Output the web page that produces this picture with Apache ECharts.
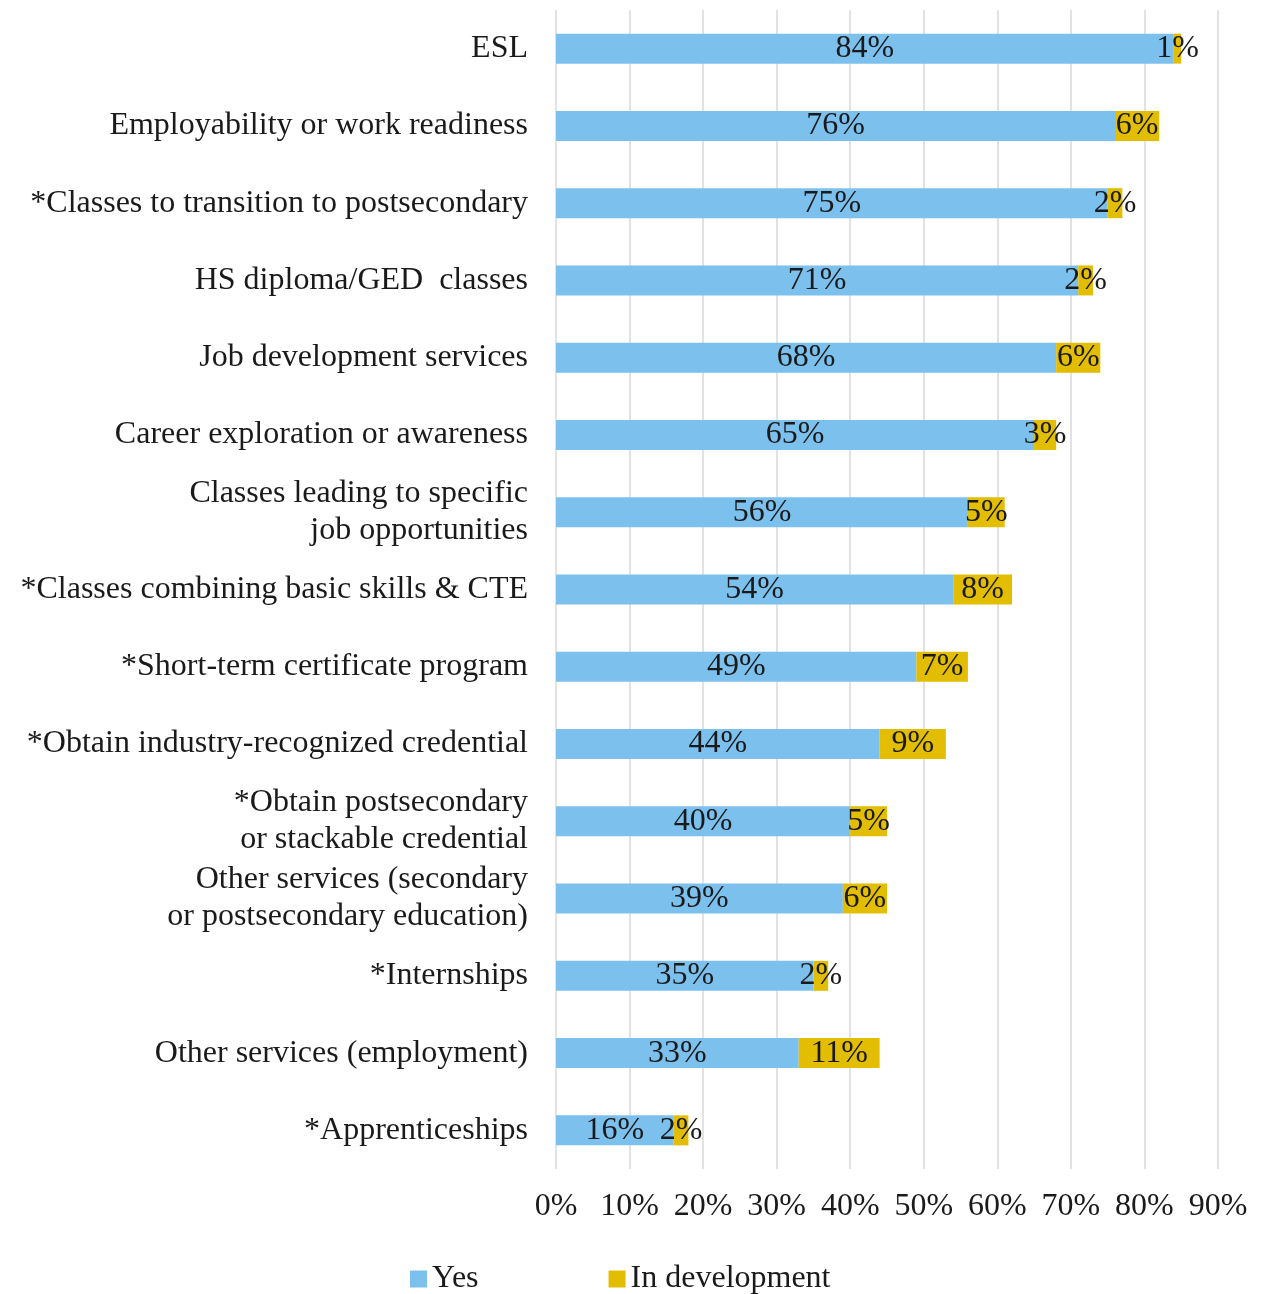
<!DOCTYPE html>
<html><head><meta charset="utf-8">
<script src="https://cdn.jsdelivr.net/npm/echarts@6/dist/echarts.min.js"></script>
<style>html,body{margin:0;padding:0;background:#fff}#c{width:1263px;height:1294px}</style>
</head><body><div id="c"></div>
<script>
const categories = [
  "ESL",
  "Employability or work readiness",
  "*Classes to transition to postsecondary",
  "HS diploma/GED  classes",
  "Job development services",
  "Career exploration or awareness",
  "Classes leading to specific\njob opportunities",
  "*Classes combining basic skills & CTE",
  "*Short-term certificate program",
  "*Obtain industry-recognized credential",
  "*Obtain postsecondary\nor stackable credential",
  "Other services (secondary\nor postsecondary education)",
  "*Internships",
  "Other services (employment)",
  "*Apprenticeships"
];
const yesValues = [84, 76, 75, 71, 68, 65, 56, 54, 49, 44, 40, 39, 35, 33, 16];
const devValues = [1, 6, 2, 2, 6, 3, 5, 8, 7, 9, 5, 6, 2, 11, 2];
const xTicks = [0, 10, 20, 30, 40, 50, 60, 70, 80, 90];

const FONT = "Liberation Serif";
const FS = 32;
const TXT = '#1a1a1a';
const chart = echarts.init(document.getElementById('c'));
chart.setOption({
  animation: false,
  textStyle: {fontFamily: FONT},
  grid: {left: 556, right: 45, top: 10, bottom: 125, containLabel: false},
  legend: {
    top: 1258, left: 405, itemWidth: 17, itemHeight: 17, itemGap: 130,
    icon: 'rect',
    textStyle: {fontFamily: FONT, fontSize: FS, color: TXT},
    data: ['Yes', 'In development']
  },
  xAxis: {
    type: 'value', min: xTicks[0], max: xTicks[xTicks.length - 1], interval: 10,
    axisLine: {show: false}, axisTick: {show: false},
    splitLine: {lineStyle: {color: '#d9d9d9', width: 1.5}},
    axisLabel: {formatter: '{value}%', fontFamily: FONT, fontSize: FS, color: TXT, margin: 22}
  },
  yAxis: {
    type: 'category', inverse: true, data: categories,
    axisLine: {show: false}, axisTick: {show: false},
    axisLabel: {fontFamily: FONT, fontSize: FS, color: TXT, margin: 28, lineHeight: 37, align: 'right'}
  },
  series: [
    {
      name: 'Yes', type: 'bar', stack: 't', data: yesValues, barWidth: 30,
      itemStyle: {color: '#7cc0ee'},
      label: {show: true, position: 'inside', formatter: '{c}%', fontFamily: FONT, fontSize: FS, color: TXT}
    },
    {
      name: 'In development', type: 'bar', stack: 't', data: devValues, barWidth: 30,
      itemStyle: {color: '#e2bd00'},
      label: {show: true, position: 'inside', formatter: '{c}%', fontFamily: FONT, fontSize: FS, color: TXT}
    }
  ]
});
</script></body></html>
